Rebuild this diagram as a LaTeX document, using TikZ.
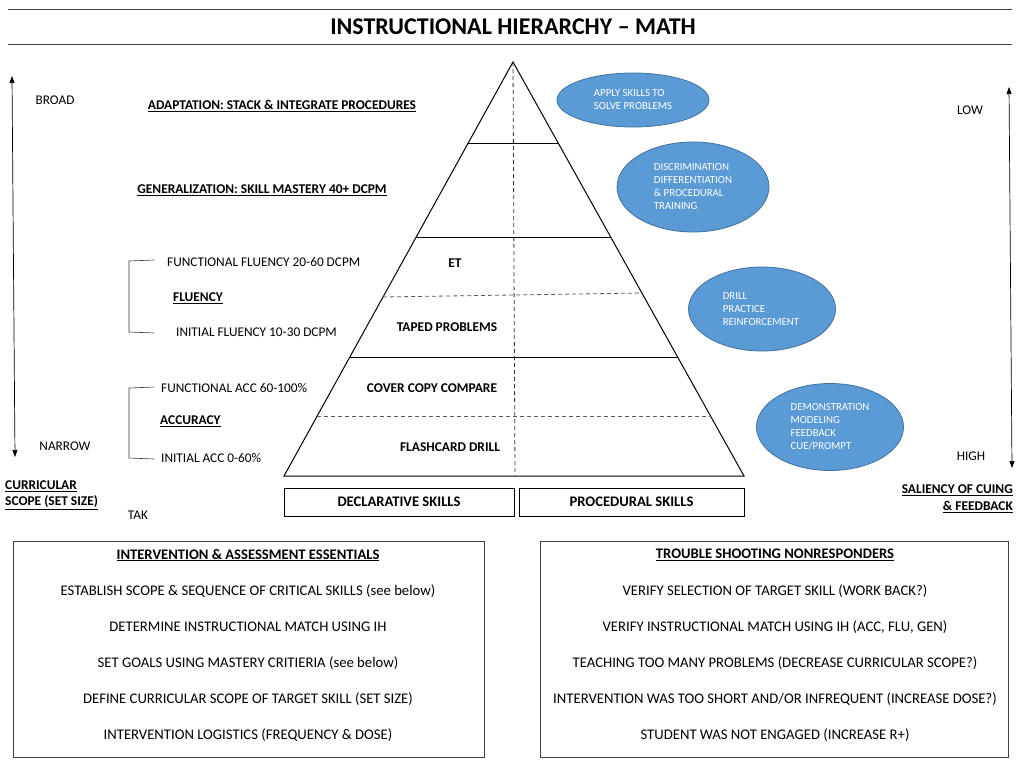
\documentclass[tikz,border=0pt]{standalone}
\usepackage{fontspec}
\setmainfont{Carlito}
\usetikzlibrary{calc,shapes.geometric,arrows.meta}
\definecolor{ellfill}{HTML}{5B9BD5}
\definecolor{elldraw}{HTML}{41719C}
\begin{document}
\begin{tikzpicture}[x=1pt,y=-1pt,
  lbl/.style={font=\fontsize{13.3}{16}\selectfont, inner sep=0pt},
  hd/.style={font=\fontsize{13.4}{16}\selectfont\bfseries, inner sep=0pt},
  blbl/.style={font=\fontsize{14.7}{17}\selectfont, inner sep=0pt},
  bhd/.style={font=\fontsize{14.6}{17}\selectfont\bfseries, inner sep=0pt},
  box/.style={draw, line width=0.9pt, inner sep=0pt},
  ell/.style={ellipse, fill=ellfill, draw=elldraw, line width=0.8pt, inner sep=0pt,
     text=white, font=\fontsize{10.8}{13}\selectfont, align=left},
  dbl/.style={line width=0.7pt, {Triangle[length=7pt,width=5pt]}-{Triangle[length=7pt,width=5pt]}},
  pyr/.style={line width=1pt},
  lev/.style={line width=0.8pt},
  dlev/.style={line width=0.8pt, dashed, dash pattern=on 4pt off 3pt, gray!70!black}
]
\useasboundingbox (0,0) rectangle (1019,764);
% title
\coordinate (t1a) at (8,9); \coordinate (t1b) at (1012,9);
\coordinate (t2a) at (8,44); \coordinate (t2b) at (1012,44);
\draw[line width=1pt, black!75] (t1a) -- (t1b);
\draw[line width=1pt, black!75] (t2a) -- (t2b);
\node[inner sep=0pt, font=\fontsize{24}{28}\selectfont\bfseries] (title) at (513,27) {INSTRUCTIONAL HIERARCHY – MATH};

% left axis
\coordinate (la1) at (12,76); \coordinate (la2) at (15,457);
\draw[dbl] (la1) -- (la2);
\node[lbl] (broad) at (55,100) {BROAD};
\node[lbl] (narrow) at (65,446) {NARROW};
\node[hd, anchor=west] (cur1) at (5,486) {\underline{CURRICULAR}};
\node[hd, anchor=west] (cur2) at (5,503) {\underline{SCOPE (SET SIZE)}};
\node[lbl] (tak) at (138,515) {TAK};

% right axis
\coordinate (ra1) at (1009,87); \coordinate (ra2) at (1012,468);
\draw[dbl] (ra1) -- (ra2);
\node[lbl] (low) at (970,110) {LOW};
\node[lbl] (high) at (971,456) {HIGH};
\node[hd, anchor=east] (sal1) at (1013,490) {\underline{SALIENCY OF CUING}};
\node[hd, anchor=east] (sal2) at (1013,507) {\underline{\& FEEDBACK}};

% left labels
\node[hd] (adapt) at (282,106) {\underline{ADAPTATION: STACK \& INTEGRATE PROCEDURES}};
\node[hd] (gen) at (262,190) {\underline{GENERALIZATION: SKILL MASTERY 40+ DCPM}};
\node[lbl, anchor=west] (ff) at (167,262) {FUNCTIONAL FLUENCY 20-60 DCPM};
\node[hd, anchor=west] (flu) at (173,298) {\underline{FLUENCY}};
\node[lbl, anchor=west] (if) at (176,332) {INITIAL FLUENCY 10-30 DCPM};
\node[lbl, anchor=west] (fa) at (161,388) {FUNCTIONAL ACC 60-100\%};
\node[hd, anchor=west] (acc) at (160,421) {\underline{ACCURACY}};
\node[lbl, anchor=west] (ia) at (161,458) {INITIAL ACC 0-60\%};
\draw[line width=0.6pt, black!80] (154,260) -- (129,261) -- (129,332) -- (154,333);
\draw[line width=0.6pt, black!80] (154,387) -- (129,388) -- (129,458) -- (154,459);

% pyramid
\coordinate (apex) at (513,62);
\coordinate (bl) at (284,476);
\coordinate (br) at (744,476);
\coordinate (bm) at (515,476);
\draw[pyr] (bl) -- (apex) -- (br) -- cycle;
\draw[dlev, black!80] (apex) -- (bm);
\draw[lev] ($(apex)!0.1957!(bl)$) -- ($(apex)!0.1957!(br)$);
\draw[lev] ($(apex)!0.4227!(bl)$) -- ($(apex)!0.4227!(br)$);
\draw[dlev] ($(apex)!0.5676!(bl)$) -- ($(apex)!0.5580!(br)$);
\draw[lev] ($(apex)!0.7126!(bl)$) -- ($(apex)!0.7126!(br)$);
\draw[dlev] ($(apex)!0.8551!(bl)$) -- ($(apex)!0.8551!(br)$);
\node[hd] (et) at (455,263) {ET};
\node[hd] (tp) at (447,327) {TAPED PROBLEMS};
\node[hd] (ccc) at (432,388) {COVER COPY COMPARE};
\node[hd] (fd) at (450,447) {FLASHCARD DRILL};
\node[box, bhd, minimum width=230pt, minimum height=28pt] (decl) at (399,502) {DECLARATIVE SKILLS};
\node[box, bhd, minimum width=225pt, minimum height=28pt] (proc) at (631.5,502) {PROCEDURAL SKILLS};

% ellipses
\node[ell, minimum width=152pt, minimum height=54pt] (e1) at (633,100) {APPLY SKILLS TO\\SOLVE PROBLEMS};
\node[ell, minimum width=152pt, minimum height=90pt] (e2) at (693,187) {DISCRIMINATION\\DIFFERENTIATION\\\& PROCEDURAL\\TRAINING};
\node[ell, minimum width=147pt, minimum height=84pt] (e3) at (762,309) {DRILL\\PRACTICE\\REINFORCEMENT\hspace*{2pt}};
\node[ell, minimum width=147pt, minimum height=87pt] (e4) at (830,427) {DEMONSTRATION\\MODELING\\FEEDBACK\\CUE/PROMPT};

% bottom boxes
\node[box, draw=black!75, minimum width=471pt, minimum height=216pt] (lbox) at (248.5,649) {};
\node[box, draw=black!75, minimum width=468pt, minimum height=216pt] (rbox) at (774,649) {};
\node[bhd] (lh) at (248,555) {\underline{INTERVENTION \& ASSESSMENT ESSENTIALS}};
\node[blbl] (l1) at (248,591) {ESTABLISH SCOPE \& SEQUENCE OF CRITICAL SKILLS (see below)};
\node[blbl] (l2) at (248,627) {DETERMINE INSTRUCTIONAL MATCH USING IH};
\node[blbl] (l3) at (248,663) {SET GOALS USING MASTERY CRITIERIA (see below)};
\node[blbl] (l4) at (248,699) {DEFINE CURRICULAR SCOPE OF TARGET SKILL (SET SIZE)};
\node[blbl] (l5) at (248,735) {INTERVENTION LOGISTICS (FREQUENCY \& DOSE)};
\node[bhd] (rh) at (775,555) {\underline{TROUBLE SHOOTING NONRESPONDERS}};
\node[blbl] (r1) at (775,591) {VERIFY SELECTION OF TARGET SKILL (WORK BACK?)};
\node[blbl] (r2) at (775,627) {VERIFY INSTRUCTIONAL MATCH USING IH (ACC, FLU, GEN)};
\node[blbl] (r3) at (775,663) {TEACHING TOO MANY PROBLEMS (DECREASE CURRICULAR SCOPE?)};
\node[blbl] (r4) at (775,699) {INTERVENTION WAS TOO SHORT AND/OR INFREQUENT (INCREASE DOSE?)};
\node[blbl] (r5) at (775,735) {STUDENT WAS NOT ENGAGED (INCREASE R+)};
\end{tikzpicture}
\end{document}
